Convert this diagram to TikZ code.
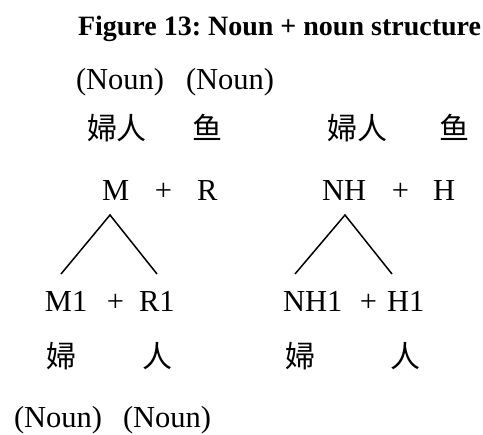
\documentclass[tikz,border=0pt]{standalone}
\usepackage{fontspec}
\setmainfont{Liberation Serif}
\newfontfamily\cjk{Noto Sans CJK SC}
\frenchspacing
\begin{document}
\begin{tikzpicture}[x=1pt,y=-1pt,
  txt/.style={inner sep=0pt,outer sep=0pt,anchor=base west,font=\fontsize{30.5}{36}\selectfont},
  ctxt/.style={txt,anchor=base},
  cj/.style={txt,font=\fontsize{30}{36}\selectfont\cjk},
  ttl/.style={txt,font=\fontsize{28}{34}\selectfont\bfseries},
  branch/.style={line width=1.5pt}]
\useasboundingbox (0,0) rectangle (483,435);
\node[ttl] (title) at (78,36) {Figure 13: Noun + noun structure};
% top labels
\node[txt] (nounA) at (76,90) {(Noun)};
\node[txt] (nounB) at (186,90) {(Noun)};
\node[cj] (fr1) at (87,140) {婦人};
\node[cj] (yu1) at (192,140) {鱼};
\node[cj] (fr2) at (327,140) {婦人};
\node[cj] (yu2) at (439,140) {鱼};
% second row
\node[txt] (M) at (102,201) {M};
\node[ctxt] (p1) at (163.5,201) {+};
\node[txt] (R) at (197,201) {R};
\node[txt] (NH) at (322,201) {NH};
\node[ctxt] (p2) at (400.5,201) {+};
\node[txt] (H) at (433,201) {H};
% branches
\coordinate (apL) at (110,215);
\coordinate (lfL) at (61,274);
\coordinate (rfL) at (157,274);
\coordinate (apR) at (345,215);
\coordinate (lfR) at (295,274);
\coordinate (rfR) at (392,274);
\draw[branch] (lfL) -- (apL) -- (rfL);
\draw[branch] (lfR) -- (apR) -- (rfR);
% third row
\node[txt] (M1) at (45,312) {M1};
\node[ctxt] (p3) at (115.5,312) {+};
\node[txt] (R1) at (139,312) {R1};
\node[txt] (NH1) at (283,312) {NH1};
\node[ctxt] (p4) at (368.5,312) {+};
\node[txt] (H1) at (387,312) {H1};
% fourth row
\node[cj] (f1) at (46,368) {婦};
\node[cj] (r1) at (142,368) {人};
\node[cj] (f2) at (285,368) {婦};
\node[cj] (r2) at (390,368) {人};
% bottom labels
\node[txt] (nounC) at (14,428) {(Noun)};
\node[txt] (nounD) at (123,428) {(Noun)};
\end{tikzpicture}
\end{document}
